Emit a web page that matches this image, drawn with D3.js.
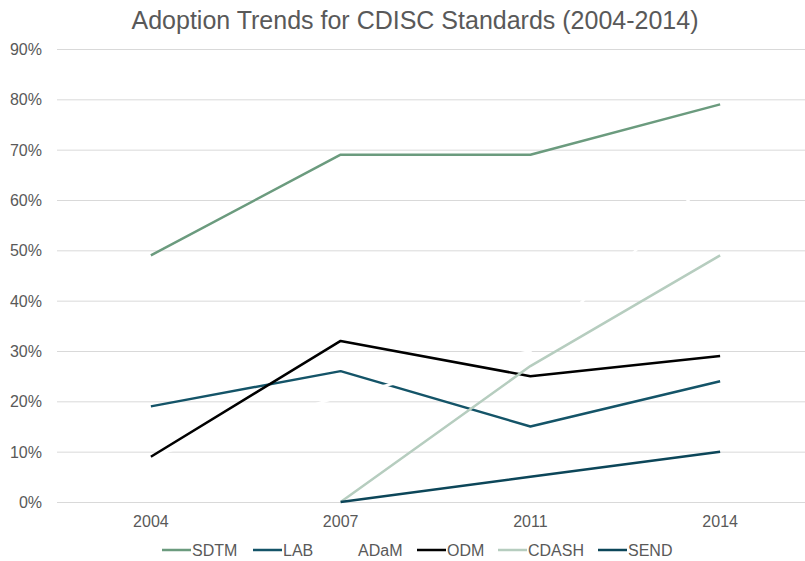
<!DOCTYPE html>
<html lang="en">
<head>
<meta charset="utf-8">
<title>Adoption Trends for CDISC Standards</title>
<script src="https://cdnjs.cloudflare.com/ajax/libs/d3/7.8.5/d3.min.js"></script>
<style>
  body { margin: 0; background: #fff; }
  text { font-family: "Liberation Sans", Arial, sans-serif; }
</style>
</head>
<body>
<script>
// data
const years = ["2004", "2007", "2011", "2014"];
const seriesNames = ["SDTM", "LAB", "ADaM", "ODM", "CDASH", "SEND"];
const sdtm  = [49, 69, 69, 79];
const lab   = [19, 26, 15, 24];
const adam  = [9, 21, 30, 66];
const odm   = [9, 32, 25, 29];
const cdash = [null, 0, 27, 49];
const send  = [null, 0, 5, 10];
const yTicks = [0, 10, 20, 30, 40, 50, 60, 70, 80, 90];
const colors = ["#6b9b7e", "#145468", "#ffffff", "#000000", "#b6cdbf", "#0c4659"];

const allSeries = [sdtm, lab, adam, odm, cdash, send];

const w = 805, h = 561;
const svg = d3.select("body").append("svg")
  .attr("width", w).attr("height", h);

const x = d3.scalePoint().domain(years).range([56, 815]).padding(0.5);
const y = d3.scaleLinear().domain([0, 90]).range([502, 49]);

svg.append("text")
  .attr("x", 415).attr("y", 29)
  .attr("text-anchor", "middle")
  .attr("font-size", 25)
  .attr("fill", "#595959")
  .text("Adoption Trends for CDISC Standards (2004-2014)");

// gridlines
svg.append("g").selectAll("line")
  .data(yTicks).enter().append("line")
  .attr("x1", 57).attr("x2", w)
  .attr("y1", d => y(d) + 0.5).attr("y2", d => y(d) + 0.5)
  .attr("stroke", "#d9d9d9").attr("stroke-width", 1);

// y labels
svg.append("g").selectAll("text")
  .data(yTicks).enter().append("text")
  .attr("x", 42).attr("y", d => y(d) + 6)
  .attr("text-anchor", "end")
  .attr("font-size", 16)
  .attr("fill", "#595959")
  .text(d => d + "%");

// x labels
svg.append("g").selectAll("text")
  .data(years).enter().append("text")
  .attr("x", d => x(d)).attr("y", 527)
  .attr("text-anchor", "middle")
  .attr("font-size", 16)
  .attr("fill", "#595959")
  .text(d => d);

const line = d3.line()
  .defined(d => d != null)
  .x((d, i) => x(years[i]))
  .y(d => y(d));

svg.append("g").selectAll("path")
  .data(allSeries).enter().append("path")
  .attr("d", d => line(d))
  .attr("fill", "none")
  .attr("stroke", (d, i) => colors[i])
  .attr("stroke-width", 2.5)
  .attr("stroke-linejoin", "round");

// legend
const legX = [162, 253, 328, 417, 498, 598];
const leg = svg.append("g").selectAll("g")
  .data(seriesNames).enter().append("g")
  .attr("transform", (d, i) => "translate(" + legX[i] + ",550)");
leg.append("line")
  .attr("x1", 0).attr("x2", 29)
  .attr("stroke", (d, i) => colors[i])
  .attr("stroke-width", 2.5);
leg.append("text")
  .attr("x", 30).attr("y", 6)
  .attr("font-size", 16)
  .attr("fill", "#595959")
  .text(d => d);
</script>
</body>
</html>
